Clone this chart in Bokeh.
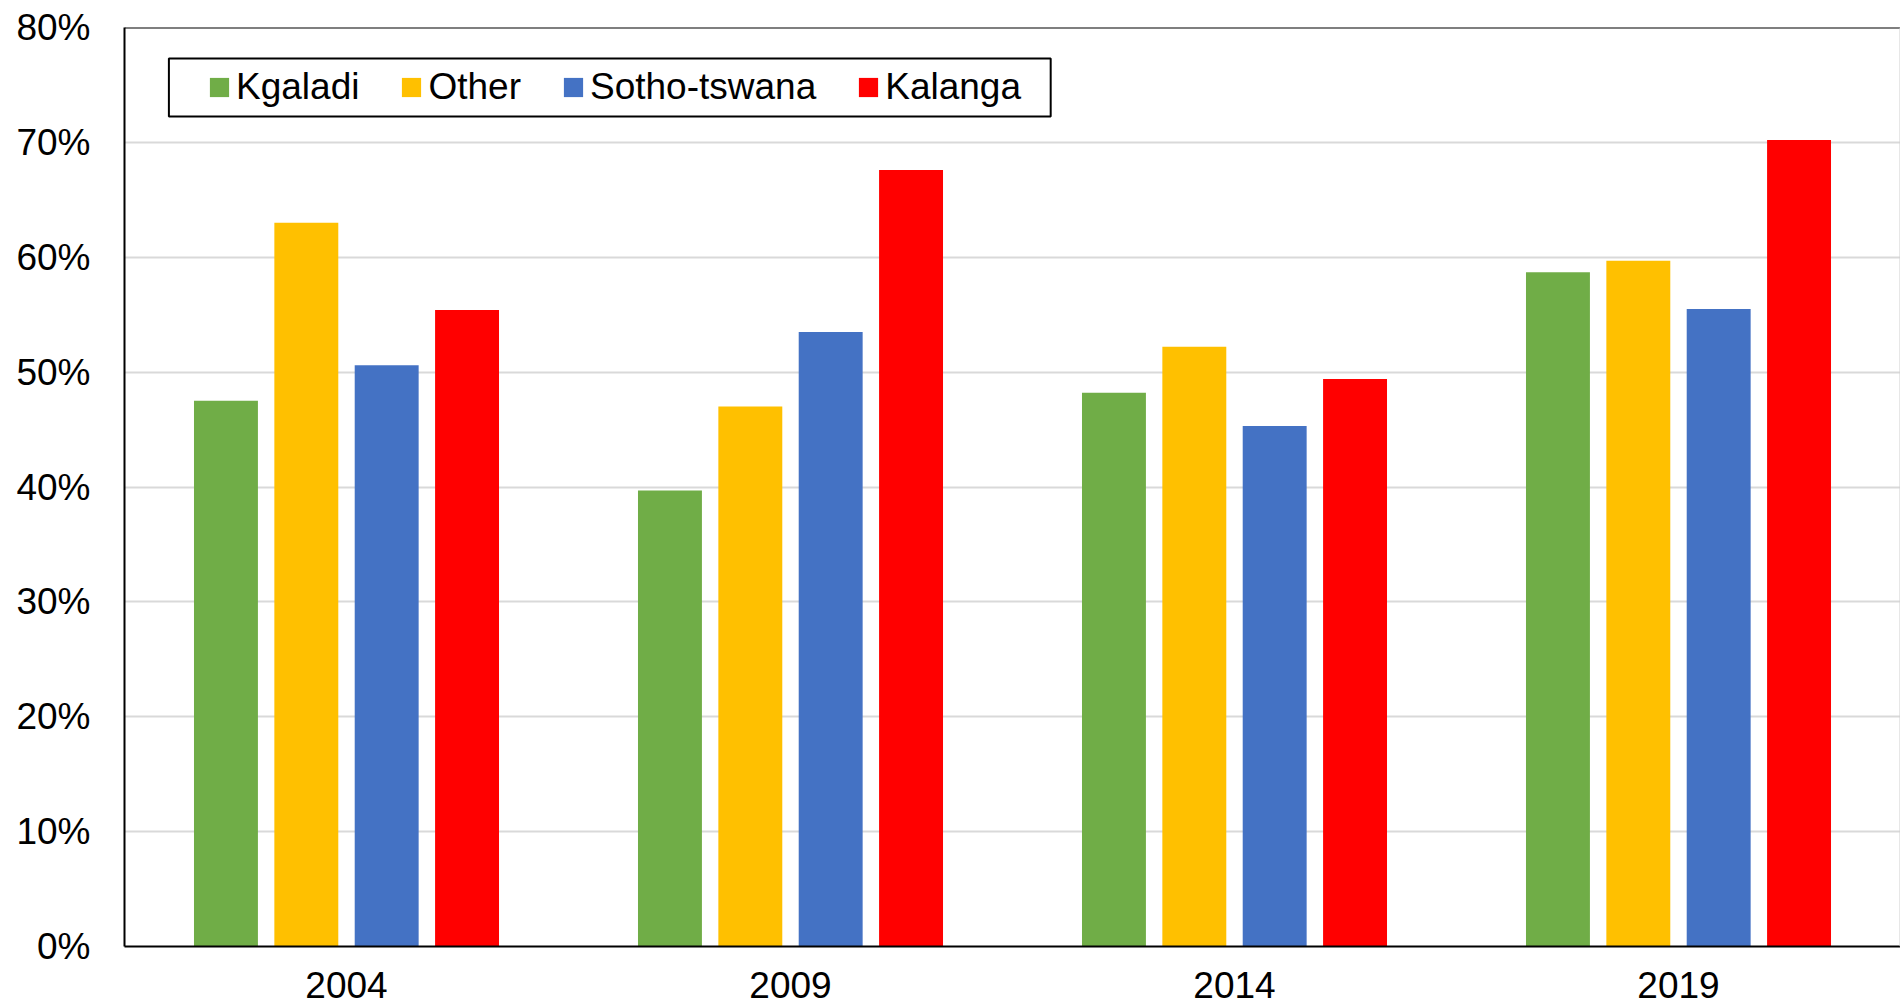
from bokeh.plotting import figure
from bokeh.models import (FactorRange, Range1d, FixedTicker, NumeralTickFormatter,
                          Legend, LegendItem, Span, BoxAnnotation, ColumnDataSource)
from bokeh.transform import dodge
from bokeh.embed import file_html
from bokeh.resources import INLINE

# ---- data ----
years = ["2004", "2009", "2014", "2019"]
series = ["Kgaladi", "Other", "Sotho-tswana", "Kalanga"]
kgaladi = [0.475, 0.397, 0.482, 0.587]
other = [0.630, 0.470, 0.522, 0.597]
sotho_tswana = [0.506, 0.535, 0.453, 0.555]
kalanga = [0.554, 0.676, 0.494, 0.702]
y_ticks = [0.0, 0.1, 0.2, 0.3, 0.4, 0.5, 0.6, 0.7, 0.8]

colors = ["#70AD47", "#FFC000", "#4472C4", "#FF0000"]
offsets = [-0.2715, -0.0905, 0.0905, 0.2715]
FONT = "Liberation Sans"
FS = "37px"

source = ColumnDataSource(dict(year=years, Kgaladi=kgaladi, Other=other,
                               **{"Sotho-tswana": sotho_tswana}, Kalanga=kalanga))

p = figure(width=1900, height=1007, x_range=FactorRange(*years, range_padding=0),
           y_range=Range1d(0, 0.8), output_backend="svg", toolbar_location=None,
           min_border_left=124, min_border_right=0, min_border_top=27,
           min_border_bottom=61)

renderers = []
for name, c, off in zip(series, colors, offsets):
    r = p.vbar(x=dodge("year", off, range=p.x_range), top=name, width=0.144,
               source=source, fill_color=c, line_color=None)
    renderers.append(r)

# axes
p.yaxis.ticker = FixedTicker(ticks=y_ticks)
p.yaxis.formatter = NumeralTickFormatter(format="0%")
for ax in (p.xaxis, p.yaxis):
    ax.major_label_text_font = FONT
    ax.major_label_text_font_size = FS
    ax.major_label_text_color = "black"
    ax.axis_line_color = "black"
    ax.axis_line_width = 2
    ax.major_tick_line_color = None
    ax.minor_tick_line_color = None
p.yaxis.major_label_standoff = 28
p.xaxis.major_label_standoff = 19

p.xgrid.grid_line_color = None
p.ygrid.grid_line_color = "#D9D9D9"
p.ygrid.grid_line_width = 2
p.outline_line_color = None

p.add_layout(Span(location=0.8, dimension="width", line_color="black", line_width=2))
p.add_layout(Span(location=4, dimension="height", line_color="#D0D0D0", line_width=2))

# legend frame
p.add_layout(BoxAnnotation(left=0.100, right=2.086, top=0.773, bottom=0.7226,
                           fill_alpha=0, line_color="black", line_width=2,
                           line_alpha=1))

legend = Legend(items=[LegendItem(label=s, renderers=[r]) for s, r in zip(series, renderers)],
                orientation="horizontal", location=(83, 838), glyph_width=24, glyph_height=24,
                label_standoff=5, spacing=40, padding=0, margin=0,
                border_line_alpha=0, background_fill_alpha=0,
                label_text_font=FONT, label_text_font_size=FS, label_text_color="black")
p.add_layout(legend)

open("out.html", "w").write(file_html(p, INLINE))
